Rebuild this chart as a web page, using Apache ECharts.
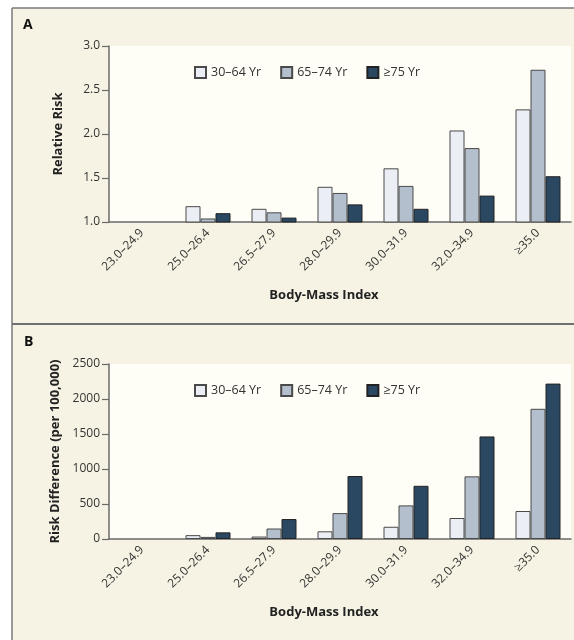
<!DOCTYPE html>
<html><head><meta charset="utf-8">
<script src="https://cdn.jsdelivr.net/npm/echarts@6/dist/echarts.min.js"></script>
<style>html,body{margin:0;padding:0;background:#fff}#c{width:574px;height:640px}</style>
</head><body><div id="c"></div>
<script>
// ---- data ----
const categories = ['23.0–24.9','25.0–26.4','26.5–27.9','28.0–29.9','30.0–31.9','32.0–34.9','≥35.0'];
const seriesNames = ['30–64 Yr','65–74 Yr','≥75 Yr'];
const rr_30_64 = [1.0, 1.18, 1.15, 1.40, 1.61, 2.04, 2.28];
const rr_65_74 = [1.0, 1.04, 1.11, 1.33, 1.41, 1.84, 2.73];
const rr_75    = [1.0, 1.10, 1.05, 1.20, 1.15, 1.30, 1.52];
const rd_30_64 = [0, 55, 35, 110, 175, 300, 400];
const rd_65_74 = [0, 30, 150, 370, 480, 895, 1860];
const rd_75    = [0, 95, 285, 900, 760, 1465, 2220];
const rrAxis = {min: 1.0, max: 3.0, step: 0.5};
const rdAxis = {min: 0, max: 2500, step: 500};

// ---- style ----
const FONT = '"Open Sans", "Noto Sans", sans-serif';
const fills = ['#ebeef4', '#b3bfcc', '#2b4862'];
const borders = ['#4a4a4a', '#4a4a4a', '#222222'];
const axisColor = '#6a6a6a';
const textColor = '#333333';

const chart = echarts.init(document.getElementById('c'), null, {renderer: 'canvas'});

function xAx(gi) {
  return {
    type: 'category', gridIndex: gi, data: categories,
    boundaryGap: true,
    axisLine: {lineStyle: {color: axisColor, width: 1.5}},
    axisTick: {alignWithLabel: true, length: 6, lineStyle: {color: axisColor, width: 1.2}},
    axisLabel: {rotate: 45, margin: 9, fontSize: 12, color: textColor, fontFamily: FONT, interval: 0},
    name: 'Body-Mass Index', nameLocation: 'middle', nameGap: 67,
    nameTextStyle: {fontSize: 13, fontWeight: 'bold', color: '#222', fontFamily: FONT, padding: [0, 32, 0, 0]}
  };
}
function yAx(gi, ax, name, dec) {
  return {
    type: 'value', gridIndex: gi, min: ax.min, max: ax.max, interval: ax.step,
    splitLine: {show: false},
    axisLine: {show: true, lineStyle: {color: axisColor, width: 1.5}},
    axisTick: {show: true, length: 7, lineStyle: {color: axisColor, width: 1.2}},
    axisLabel: {margin: 9, fontSize: 12, color: textColor, fontFamily: FONT,
      formatter: v => dec ? v.toFixed(1) : String(v)},
    name: name, nameLocation: 'middle', nameGap: 44, nameRotate: 90,
    nameTextStyle: {fontSize: 13, fontWeight: 'bold', color: '#222', fontFamily: FONT}
  };
}
// the reference category (value equal to the axis baseline) has no bar
function bars(gi, arrs, base) {
  return arrs.map((d, i) => ({
    type: 'bar', name: seriesNames[i], xAxisIndex: gi, yAxisIndex: gi,
    data: d.map(v => (v === base ? null : v)), barWidth: 15, barGap: '0%', clip: true,
    itemStyle: {color: fills[i], borderColor: borders[i], borderWidth: 1},
    emphasis: {disabled: true}
  }));
}
function legend(top) {
  return {
    left: 189, top: top, itemWidth: 11, itemHeight: 11, itemGap: 19,
    icon: 'rect', data: seriesNames,
    textStyle: {fontSize: 12.5, color: textColor, fontFamily: FONT},
    selectedMode: false
  };
}

chart.setOption({
  animation: false,
  backgroundColor: '#ffffff',
  graphic: [
    {type: 'rect', z: -10, silent: true, shape: {x: 12, y: 8, width: 562, height: 632}, style: {fill: '#f7f3e4'}},
    {type: 'line', z: 10, shape: {x1: 12, y1: 8, x2: 574, y2: 8}, style: {stroke: '#7a7a7a', lineWidth: 1.5}},
    {type: 'line', z: 10, shape: {x1: 12, y1: 8, x2: 12, y2: 640}, style: {stroke: '#7a7a7a', lineWidth: 1.5}},
    {type: 'line', z: 10, shape: {x1: 12, y1: 324, x2: 574, y2: 324}, style: {stroke: '#707070', lineWidth: 2}},
    {type: 'text', left: 23, top: 18, style: {text: 'A', font: 'bold 14px ' + FONT, fill: '#111'}},
    {type: 'text', left: 24, top: 335, style: {text: 'B', font: 'bold 14px ' + FONT, fill: '#111'}}
  ],
  legend: [legend(61), legend(379)],
  grid: [
    {left: 109, top: 46, width: 462, height: 176, show: true, backgroundColor: '#fefdf6', borderWidth: 0, containLabel: false},
    {left: 109, top: 364, width: 462, height: 175, show: true, backgroundColor: '#fefdf6', borderWidth: 0, containLabel: false}
  ],
  xAxis: [xAx(0), xAx(1)],
  yAxis: [yAx(0, rrAxis, 'Relative Risk', true), yAx(1, rdAxis, 'Risk Difference (per 100,000)', false)],
  series: bars(0, [rr_30_64, rr_65_74, rr_75], rrAxis.min).concat(bars(1, [rd_30_64, rd_65_74, rd_75], rdAxis.min))
});
</script></body></html>
